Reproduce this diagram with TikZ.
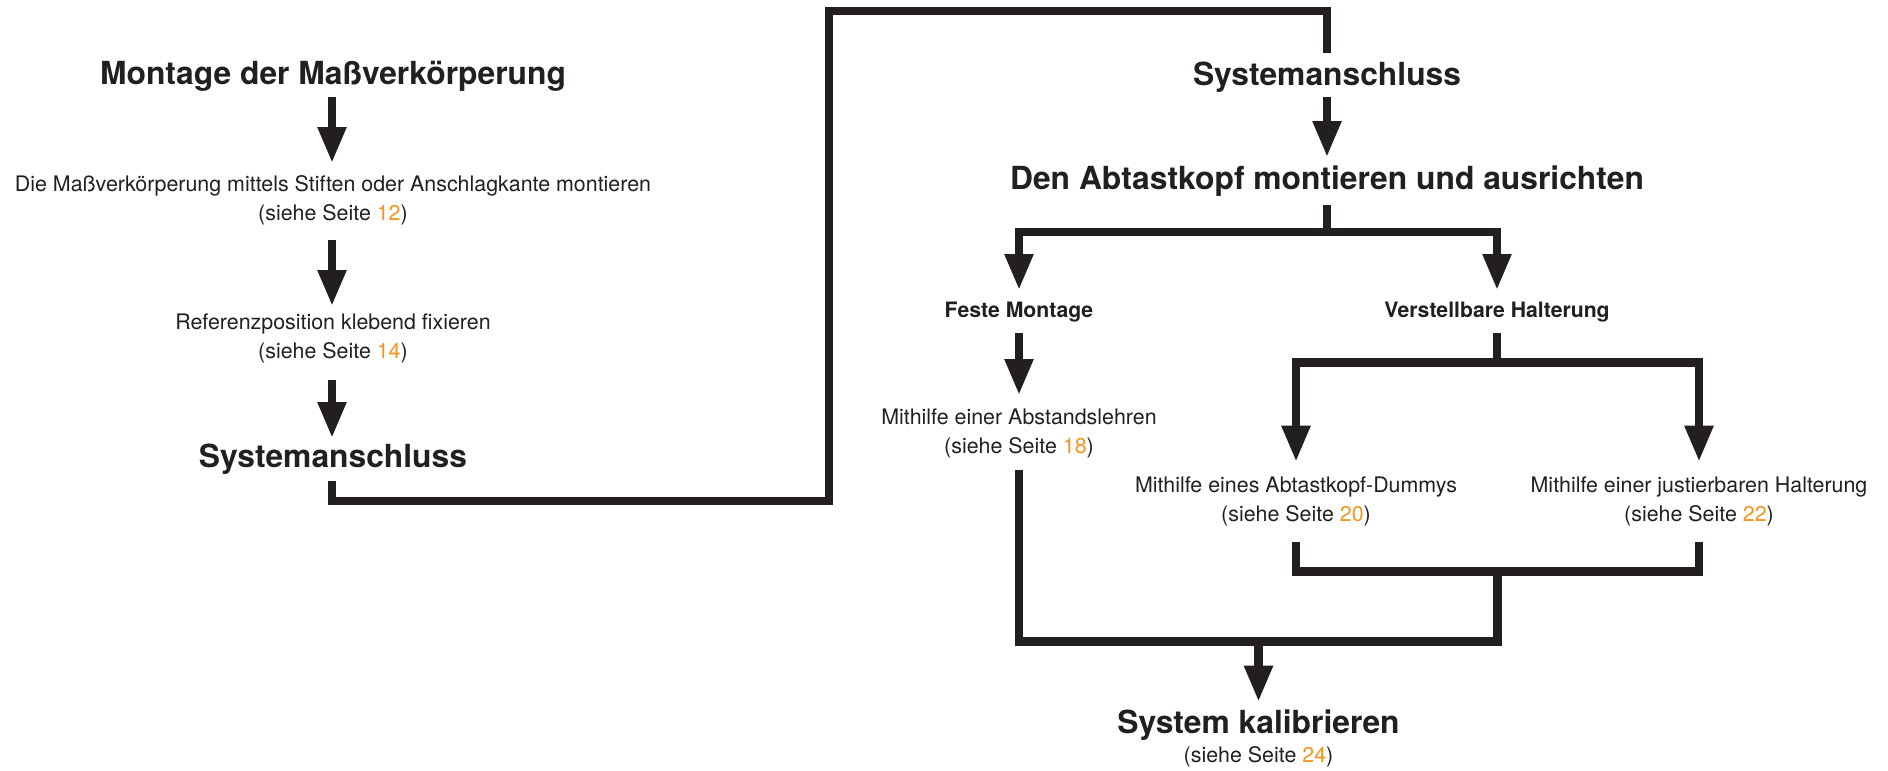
\documentclass[tikz,border=0pt]{standalone}
\usepackage{fontspec}
\setmainfont{TeX Gyre Heros}
\usetikzlibrary{arrows.meta}
\definecolor{ink}{HTML}{231F20}
\definecolor{orng}{HTML}{F7941D}
\newcommand{\pgnum}[1]{\textcolor{orng}{#1}}
\begin{document}
\begin{tikzpicture}[x=1pt,y=-1pt,
  titletxt/.style={font=\fontsize{31.8}{38}\selectfont\bfseries, text=ink, inner sep=0pt, anchor=base},
  subtxt/.style={font=\fontsize{21.2}{29}\selectfont\bfseries, text=ink, inner sep=0pt, anchor=base},
  desctxt/.style={font=\fontsize{21.4}{29}\selectfont, text=ink, inner sep=0pt, anchor=base, align=center},
  conn/.style={draw=ink, line width=8.3pt, line join=miter},
  arr/.style={conn, -{Triangle[length=36pt,width=27pt]}},
]
\fill[white] (0,0) rectangle (1888,771);
\useasboundingbox (0,0) rectangle (1888,771);

% left column (multi-line nodes are placed at the baseline of their last line)
\node[titletxt] (l1) at (333,84) {Montage der Maßverkörperung};
\node[desctxt] (l2) at (333,220) {Die Maßverkörperung mittels Stiften oder Anschlagkante montieren\\(siehe Seite \pgnum{12})};
\node[desctxt] (l3) at (333,358) {Referenzposition klebend fixieren\\(siehe Seite \pgnum{14})};
\node[titletxt] (l4) at (333,467) {Systemanschluss};

\draw[arr] ([xshift=-1pt,yshift=-13pt]l1.base) -- ([xshift=-1pt,yshift=57pt]l2.base);
\draw[arr] ([xshift=-1pt,yshift=-20pt]l2.base) -- ([xshift=-1pt,yshift=52pt]l3.base);
\draw[arr] ([xshift=-1pt,yshift=-22pt]l3.base) -- ([xshift=-1pt,yshift=29pt]l4.base);

% right column
\node[titletxt] (r1) at (1327,85) {Systemanschluss};
\node[titletxt] (r2) at (1327,189) {Den Abtastkopf montieren und ausrichten};
\node[subtxt] (r3) at (1019,317) {Feste Montage};
\node[subtxt] (r4) at (1497,317) {Verstellbare Halterung};
\node[desctxt] (r5) at (1019,453) {Mithilfe einer Abstandslehren\\(siehe Seite \pgnum{18})};
\node[desctxt] (r6) at (1296,521) {Mithilfe eines Abtastkopf-Dummys\\(siehe Seite \pgnum{20})};
\node[desctxt] (r7) at (1699,521) {Mithilfe einer justierbaren Halterung\\(siehe Seite \pgnum{22})};
\node[desctxt] (r8) at (1258.5,762) {{\fontsize{31.8}{38}\selectfont\bfseries System kalibrieren}\\(siehe Seite \pgnum{24})};

% junction points
\coordinate (k1) at (829,501);
\coordinate (k2) at (1327,11);
\coordinate (b1) at (1327,232);
\coordinate (b2) at (1497,362.5);
\coordinate (b3) at (1497.5,571.5);
\coordinate (b4) at (1497.5,641.5);
\coordinate (b5) at (1258.5,641.5);

% connector from left Systemanschluss to right Systemanschluss
\draw[conn] ([xshift=-1pt,yshift=-14pt]l4.base) |- (k1) |- (k2) -- ([yshift=32pt]r1.base);

\draw[arr] ([yshift=-12pt]r1.base) -- ([yshift=32pt]r2.base);
\draw[conn] ([yshift=-16pt]r2.base) -- (b1);
\draw[arr] (b1) -| ([yshift=27pt]r3.base);
\draw[arr] (b1) -| ([yshift=27pt]r4.base);

\draw[arr] ([yshift=-16pt]r3.base) -- ([yshift=58pt]r5.base);
\draw[conn] ([yshift=-16pt]r4.base) -- (b2);
\draw[arr] (b2) -| ([yshift=59.3pt]r6.base);
\draw[arr] (b2) -| ([yshift=59.3pt]r7.base);

\draw[conn] ([yshift=-17pt]r5.base) |- (b4) -- (b3);
\draw[conn] ([yshift=-21pt]r6.base) |- (b3) -| ([yshift=-21pt]r7.base);
\draw[arr] (b5) -- ([yshift=60.3pt]r8.base);
\end{tikzpicture}
\end{document}
